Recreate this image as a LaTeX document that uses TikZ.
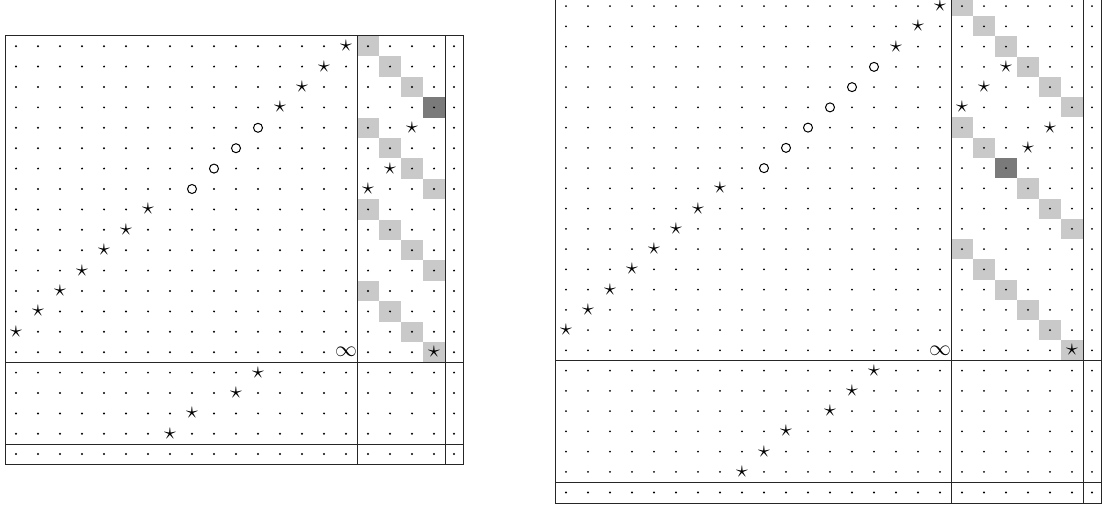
\documentclass[tikz,border=0pt]{standalone}
\tikzset{
  gridline/.style={line width=0.5pt, draw=black!85},
  lightcell/.style={fill=black!21},
  darkcell/.style={fill=black!52},
  symb/.style={inner sep=0pt, font=\fontsize{12}{12}\selectfont},
  ring/.style={line width=0.5pt, draw=black},
  griddot/.style={fill=black},
}
\newcommand\setsym[3]{\expandafter\gdef\csname sy-#1-#2-#3\endcsname{}}
\newcommand\colc[1]{\pgfmathsetmacro\cx{(#1<\NK) ? (\Xo+\DX*#1+\DX/2) : (\Xo+\DX*\NK+\LW/2)}}
\newcommand\rowc[1]{\pgfmathsetmacro\cy{(#1<\NM) ? (\Yo+\DY*#1+\DY/2) : (\Yo+\DY*\NM+\LH/2)}}
\newcommand\drawmat[1]{%
  \pgfmathtruncatemacro\NK{\Nn+\Kk}%
  \pgfmathtruncatemacro\NM{\Nn+\Mm}%
  \pgfmathsetmacro\Wd{\Xo+\DX*\NK+\LW}%
  \pgfmathsetmacro\Ht{\Yo+\DY*\NM+\LH}%
  \pgfmathsetmacro\Va{\Xo+\DX*\Nn}%
  \pgfmathsetmacro\Vb{\Xo+\DX*\NK}%
  \pgfmathsetmacro\Ha{\Yo+\DY*\Nn}%
  \pgfmathsetmacro\Hb{\Yo+\DY*\NM}%
  \foreach \ci/\ri in \Light {\fill[lightcell] ({\Xo+\DX*\ci},{\Yo+\DY*\ri}) rectangle ++(\DX,\DY);}
  \foreach \ci/\ri in \Dark {\fill[darkcell] ({\Xo+\DX*\ci},{\Yo+\DY*\ri}) rectangle ++(\DX,\DY);}
  \foreach \ci/\ri in \Stars {\setsym{#1}{\ci}{\ri}}
  \foreach \ci/\ri in \Rings {\setsym{#1}{\ci}{\ri}}
  \foreach \ci/\ri in \Inf {\setsym{#1}{\ci}{\ri}}
  \foreach \ci in {0,...,\NK}{%
    \foreach \ri in {0,...,\NM}{%
      \ifcsname sy-#1-\ci-\ri\endcsname\else
        \colc{\ci}\rowc{\ri}\fill[griddot] (\cx,\cy) circle (1.1);%
      \fi}}
  \foreach \ci/\ri in \Stars {\colc{\ci}\rowc{\ri}\node[symb] at (\cx,\cy) {$\star$};}
  \foreach \ci/\ri in \Rings {\colc{\ci}\rowc{\ri}\draw[ring] (\cx,\cy) circle (4.5);}
  \foreach \ci/\ri in \Inf {\colc{\ci}\rowc{\ri}\node[symb,font=\fontsize{11}{11}\selectfont] at (\cx,\cy) {$\infty$};}
  \draw[gridline] (\Xo,\Yo) rectangle (\Wd,\Ht);
  \draw[gridline] (\Va,\Yo) -- (\Va,\Ht);
  \draw[gridline] (\Vb,\Yo) -- (\Vb,\Ht);
  \draw[gridline] (\Xo,\Ha) -- (\Wd,\Ha);
  \draw[gridline] (\Xo,\Hb) -- (\Wd,\Hb);
}
\begin{document}
\begin{tikzpicture}[x=0.5pt,y=-0.5pt]
\useasboundingbox (0,0) rectangle (1103,508);
\clip (0,0) rectangle (1103,508);
% left matrix
\def\Xo{5}\def\Yo{36}\def\Nn{16}\def\Mm{4}\def\Kk{4}\def\DX{22}\def\DY{20.4}\def\LW{18}\def\LH{20}
\def\Light{16/0,17/1,18/2,16/4,17/5,18/6,19/7,16/8,17/9,18/10,19/11,16/12,17/13,18/14,19/15}
\def\Dark{19/3}
\def\Stars{15/0,14/1,13/2,12/3,6/8,5/9,4/10,3/11,2/12,1/13,0/14,18/4,17/6,16/7,19/15,11/16,10/17,8/18,7/19}
\def\Rings{11/4,10/5,9/6,8/7}
\def\Inf{15/15}
\drawmat{L}
% right matrix
\def\Xo{555}\def\Yo{-4}\def\Nn{18}\def\Mm{6}\def\Kk{6}\def\DX{22}\def\DY{20.25}\def\LW{18}\def\LH{21}
\def\Light{18/0,19/1,20/2,21/3,22/4,23/5,18/6,19/7,21/9,22/10,23/11,18/12,19/13,20/14,21/15,22/16,23/17}
\def\Dark{20/8}
\def\Stars{17/0,16/1,15/2,7/9,6/10,5/11,4/12,3/13,2/14,1/15,0/16,20/3,19/4,18/5,22/6,21/7,23/17,14/18,13/19,12/20,10/21,9/22,8/23}
\def\Rings{14/3,13/4,12/5,11/6,10/7,9/8}
\def\Inf{17/17}
\drawmat{R}
\end{tikzpicture}
\end{document}
